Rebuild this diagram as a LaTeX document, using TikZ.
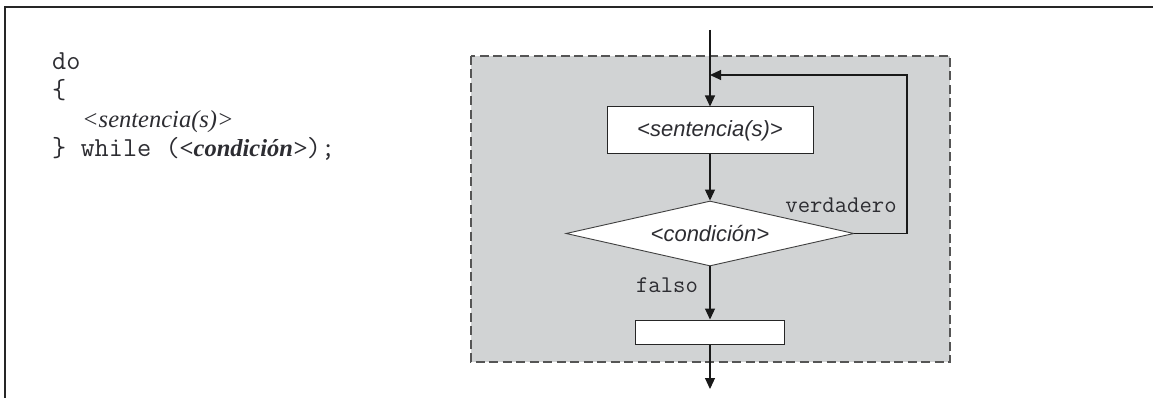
\documentclass[tikz,border=0pt]{standalone}
\usepackage{fontspec}
\usetikzlibrary{arrows.meta,shapes.geometric}
\newfontfamily\codeserif{Liberation Serif}
\newfontfamily\diagsans{Liberation Sans}
\definecolor{panelgray}{RGB}{209,211,212}
\definecolor{dashgray}{RGB}{85,85,85}
\definecolor{inkgray}{RGB}{45,45,50}
\tikzset{
  codemono/.style={anchor=base west,inner sep=0pt,text=inkgray,font=\fontsize{27.5}{30}\selectfont\ttfamily},
  codeit/.style={anchor=base west,inner sep=0pt,text=inkgray,font=\fontsize{24.5}{28}\selectfont\codeserif\itshape},
  stepbox/.style={draw=black!85,fill=white,line width=1pt,inner sep=0pt},
  decision/.style={diamond,draw=black!75,fill=white,line width=0.9pt,inner sep=0pt,aspect=4.43,minimum width=288pt,minimum height=65pt,font=\fontsize{22}{26}\selectfont\diagsans\itshape,text=inkgray},
  flow/.style={line width=1.1pt,draw=black!90,-{Triangle[length=11pt,width=10pt]}},
  looplabel/.style={inner sep=0pt,text=inkgray,font=\fontsize{24}{28}\selectfont\ttfamily},
}
\begin{document}
\begin{tikzpicture}[x=1pt,y=-1pt]
\useasboundingbox (0,0) rectangle (1153,398);
% outer frame (top and left only)
\draw[line width=1.6pt,black!85] (5,398) -- (5,7) -- (1153,7);
% code listing
\node[codemono] (ldo) at (52,70) {do};
\node[codemono] (lopen) at (52,99) {\{};
\node[codeit] (lsent) at (82,128) {<sentencia(s)>};
\node[codemono] (lwhile) at (52,157) {\} while (\codeserif\bfseries\itshape\fontsize{24.5}{28}\selectfont <condición>\ttfamily\mdseries\upshape\fontsize{27.5}{30}\selectfont );};
% grey panel
\draw[fill=panelgray,draw=dashgray,line width=1.2pt,dash pattern=on 9pt off 4.5pt] (471,56) rectangle (950,362);
% flow nodes
\coordinate (start) at (710,30);
\coordinate (join) at (710,75);
\node[stepbox,minimum width=206pt,minimum height=47pt,font=\fontsize{22}{26}\selectfont\diagsans\itshape,text=inkgray] (sent) at (710,130.5) {<sentencia(s)>};
\node[decision] (cond) at (710,233.5) {<condición>};
\node[stepbox,minimum width=149pt,minimum height=24pt] (next) at (710,332) {};
\coordinate (corner) at (907,233.5);
\coordinate (exit) at (710,389);
% connectors
\draw[flow] (start) -- (sent.north);
\draw[flow] (sent.south) -- (cond.north);
\draw[flow] (cond.east) -- (corner) |- (join);
\draw[flow] (cond.south) -- (next.north);
\draw[flow] (next.south) -- (exit);
% labels
\node[looplabel] (ltrue) at (841,205) {verdadero};
\node[looplabel] (lfalse) at (667,285) {falso};
\end{tikzpicture}
\end{document}
